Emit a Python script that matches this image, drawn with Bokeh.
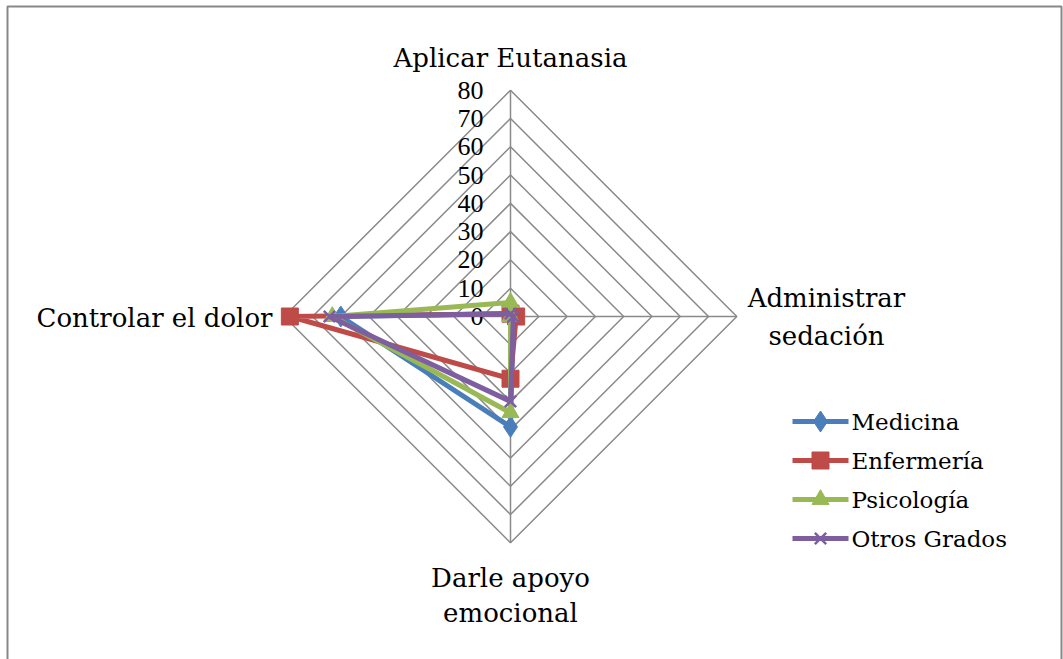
from math import cos, sin, pi

from bokeh.core.properties import value
from bokeh.embed import file_html
from bokeh.models import ColumnDataSource, Range1d
from bokeh.plotting import figure
from bokeh.resources import INLINE

# ---- data -------------------------------------------------------------
categories = ["Aplicar Eutanasia", "Administrar sedación",
              "Darle apoyo emocional", "Controlar el dolor"]
medicina = [1, 1, 39, 60]
enfermeria = [1, 2, 22, 78]
psicologia = [5, 0, 34, 63]
otros_grados = [1, 1, 30, 64]
series_names = ["Medicina", "Enfermería", "Psicología", "Otros Grados"]
tick_values = [0, 10, 20, 30, 40, 50, 60, 70, 80]

# ---- styling ----------------------------------------------------------
W, H = 1063, 659
CX, CY = 510, 316          # pixel position of the radar centre
RMAX = 80
K = 226.3 / RMAX           # pixels per unit
LABEL_FONT = value("DejaVu Serif")
TICK_FONT = value("Liberation Serif")
GRID = "#8a8a8a"

styles = [
    ("#4a7ebb", "diamond", 21),
    ("#be4b48", "square", 17),
    ("#98b954", "triangle", 17),
    ("#7d5fa0", "x", 16),
]


def px(x):
    return (x - CX) / K


def py(y):
    return (CY - y) / K


angles = [pi / 2 - i * pi / 2 for i in range(len(categories))]


def polar(vals):
    xs = [v * cos(a) for v, a in zip(vals, angles)]
    ys = [v * sin(a) for v, a in zip(vals, angles)]
    return xs, ys


p = figure(width=W, height=H, output_backend="svg", toolbar_location=None,
           x_range=Range1d(px(0), px(W)), y_range=Range1d(py(H), py(0)),
           min_border=0, outline_line_color=None)
p.axis.visible = False
p.grid.visible = False
p.background_fill_color = "white"
p.border_fill_color = "white"

# chart frame
p.quad(left=px(7), right=px(1061), top=py(6), bottom=py(720),
       fill_color=None, line_color="#888888", line_width=2)

# concentric diamonds and spokes
for t in tick_values[1:]:
    gx, gy = polar([t] * 4)
    p.line(gx + gx[:1], gy + gy[:1], line_color=GRID, line_width=1.5)
for a in angles:
    p.line([0, RMAX * cos(a)], [0, RMAX * sin(a)], line_color=GRID,
           line_width=1.5)

# radial tick labels
p.text(x=[px(CX - 27)] * len(tick_values), y=tick_values,
       text=[str(t) for t in tick_values], text_align="right",
       text_baseline="middle", text_font=TICK_FONT, text_font_size="26px",
       text_color="black")

# category labels
lab_x = [0, px(826), px(826), 0, 0, px(272)]
lab_y = [py(57), py(297), py(335), py(577), py(612), py(317)]
lab_t = ["Aplicar Eutanasia", "Administrar", "sedación",
         "Darle apoyo", "emocional", "Controlar el dolor"]
lab_a = ["center", "center", "center", "center", "center", "right"]
p.text(x=lab_x, y=lab_y, text=lab_t, text_align=lab_a,
       text_baseline="middle", text_font=LABEL_FONT, text_font_size="26px",
       text_color="black")

# series
all_series = [medicina, enfermeria, psicologia, otros_grados]
for vals, (color, marker, size) in zip(all_series, styles):
    sx, sy = polar(vals)
    p.line(sx + sx[:1], sy + sy[:1], line_color=color, line_width=5)
    src = ColumnDataSource(dict(x=sx, y=sy))
    if marker == "x":
        p.scatter("x", "y", source=src, marker=marker, size=size,
                  line_color=color, line_width=2.5)
    else:
        p.scatter("x", "y", source=src, marker=marker, size=size,
                  fill_color=color, line_color=color)

# legend
leg_rows = [421, 460, 499, 538]
for name, (color, marker, size), ry in zip(series_names, styles, leg_rows):
    p.line([px(792), px(848)], [py(ry), py(ry)], line_color=color,
           line_width=5)
    if marker == "x":
        p.scatter([px(820)], [py(ry)], marker=marker, size=size,
                  line_color=color, line_width=2.5)
    else:
        p.scatter([px(820)], [py(ry)], marker=marker, size=size,
                  fill_color=color, line_color=color)
    p.text(x=[px(851)], y=[py(ry)], text=[name], text_align="left",
           text_baseline="middle", text_font=LABEL_FONT,
           text_font_size="23px", text_color="black")

open("out.html", "w").write(file_html(p, INLINE))
